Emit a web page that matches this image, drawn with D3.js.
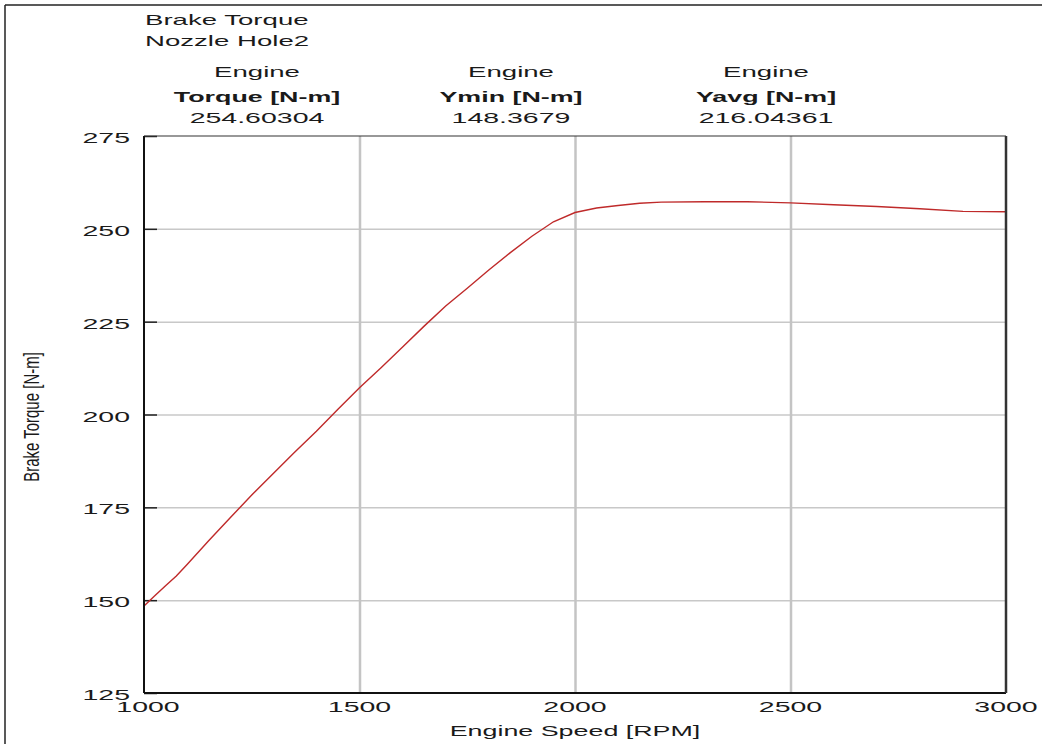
<!DOCTYPE html>
<html>
<head>
<meta charset="utf-8">
<script src="https://cdn.jsdelivr.net/npm/d3@7"></script>
<style>
  html, body { margin: 0; padding: 0; background: #fff; }
  svg { display: block; }
  text { font-family: "Liberation Sans", Arial, sans-serif; fill: #1a1a1a; font-size: 15px; }
</style>
</head>
<body>
<svg id="chart" width="1042" height="744"></svg>
<script>
// Engine speed sweep [RPM] and brake torque [N-m]
const rpm = [1000, 1025, 1050, 1075, 1100, 1150, 1200, 1250, 1300, 1350, 1400, 1450,
             1500, 1550, 1600, 1650, 1700, 1750, 1800, 1850, 1900, 1950, 2000, 2050,
             2100, 2150, 2200, 2300, 2400, 2500, 2600, 2700, 2800, 2900, 3000];
const torque = [148.4, 151.2, 153.9, 156.5, 159.6, 166.0, 172.2, 178.3, 184.1, 189.9, 195.5, 201.4,
                207.2, 212.6, 218.2, 223.8, 229.2, 234.0, 238.9, 243.6, 248.0, 251.9, 254.4, 255.6,
                256.3, 256.9, 257.2, 257.3, 257.3, 257.0, 256.5, 256.0, 255.4, 254.7, 254.6];

const xTicks = [1000, 1500, 2000, 2500, 3000];
const yTicks = [125, 150, 175, 200, 225, 250, 275];

const titleLines = ["Brake Torque", "Nozzle Hole2"];
const headerTop = ["Engine", "Engine", "Engine"];
const headerName = ["Torque [N-m]", "Ymin [N-m]", "Yavg [N-m]"];
const headerValue = ["254.60304", "148.3679", "216.04361"];

const svg = d3.select("#chart");
const plot = { left: 144, right: 1006, top: 136, bottom: 693 };

const x = d3.scaleLinear().domain([1000, 3000]).range([plot.left, plot.right]);
const y = d3.scaleLinear().domain([125, 275]).range([plot.bottom, plot.top]);

// the chart's text is drawn wide: each label is scaled horizontally
const WIDE = 1.84, WIDE_NUM = 1.9;
function wideText(parent, str, px, py, anchor, sx, bold) {
  return parent.append("text")
    .attr("transform", `translate(${px},${py}) scale(${sx},1)`)
    .attr("text-anchor", anchor)
    .attr("font-weight", bold ? "bold" : null)
    .text(str);
}

// outer frame (left and top edges)
svg.append("line").attr("x1", 5).attr("x2", 5).attr("y1", 5).attr("y2", 744)
  .attr("stroke", "#222").attr("stroke-width", 1.5);
svg.append("line").attr("x1", 5).attr("x2", 1042).attr("y1", 5).attr("y2", 5)
  .attr("stroke", "#222").attr("stroke-width", 1.5);

// title
titleLines.forEach((t, i) => wideText(svg, t, 145, 25 + i * 21, "start", WIDE));

// summary columns
const colX = [257, 511, 766];
headerTop.forEach((t, i) => {
  wideText(svg, t, colX[i], 77, "middle", WIDE);
  wideText(svg, headerName[i], colX[i], 102, "middle", 1.79, true);
  wideText(svg, headerValue[i], colX[i], 123, "middle", WIDE_NUM);
});

// horizontal gridlines
svg.append("g")
  .attr("transform", `translate(${plot.left},0)`)
  .call(d3.axisRight(y).tickValues(yTicks.slice(1, -1)).tickSize(plot.right - plot.left).tickFormat(""))
  .call(g => g.select(".domain").remove())
  .call(g => g.selectAll(".tick line").attr("stroke", "#c8c8c8").attr("stroke-width", 1.5));

// vertical gridlines
svg.append("g")
  .attr("transform", `translate(0,${plot.top})`)
  .call(d3.axisBottom(x).tickValues(xTicks.slice(1, -1)).tickSize(plot.bottom - plot.top).tickFormat(""))
  .call(g => g.select(".domain").remove())
  .call(g => g.selectAll(".tick line").attr("stroke", "#c4c4c4").attr("stroke-width", 2.5));

// y axis: short inward ticks
svg.append("g")
  .attr("transform", `translate(${plot.left},0)`)
  .call(d3.axisRight(y).tickValues(yTicks).tickSize(13).tickFormat(""))
  .call(g => g.select(".domain").remove())
  .call(g => g.selectAll(".tick line").attr("stroke", "#222").attr("stroke-width", 1.5));

// y tick labels
const yLab = svg.append("g");
yTicks.forEach(v => wideText(yLab, String(v), 130, y(v) + 7, "end", WIDE_NUM));

// x tick labels
const xLab = svg.append("g");
xTicks.forEach((v, i) => wideText(xLab, String(v), x(v) + (i === 0 ? 4 : 0), 712, "middle", WIDE_NUM));

// torque curve
const line = d3.line().x((d, i) => x(rpm[i])).y(d => y(d));
svg.append("path").datum(torque)
  .attr("d", line)
  .attr("fill", "none").attr("stroke", "#bf2a2a").attr("stroke-width", 1.4);

// plot border
svg.append("line").attr("x1", plot.left).attr("x2", plot.right).attr("y1", plot.top).attr("y2", plot.top)
  .attr("stroke", "#333").attr("stroke-width", 1.2);
svg.append("line").attr("x1", plot.left).attr("x2", plot.left).attr("y1", plot.top).attr("y2", plot.bottom)
  .attr("stroke", "#111").attr("stroke-width", 2);
svg.append("line").attr("x1", plot.left).attr("x2", plot.right).attr("y1", plot.bottom).attr("y2", plot.bottom)
  .attr("stroke", "#111").attr("stroke-width", 2);
svg.append("line").attr("x1", plot.right).attr("x2", plot.right).attr("y1", plot.top).attr("y2", plot.bottom)
  .attr("stroke", "#333").attr("stroke-width", 2.5);

// axis titles
wideText(svg, "Engine Speed [RPM]", 575, 736, "middle", 1.79);
svg.append("text")
  .attr("transform", "translate(39,417) rotate(-90) scale(1,1.5)")
  .attr("text-anchor", "middle")
  .text("Brake Torque [N-m]");
</script>
</body>
</html>
